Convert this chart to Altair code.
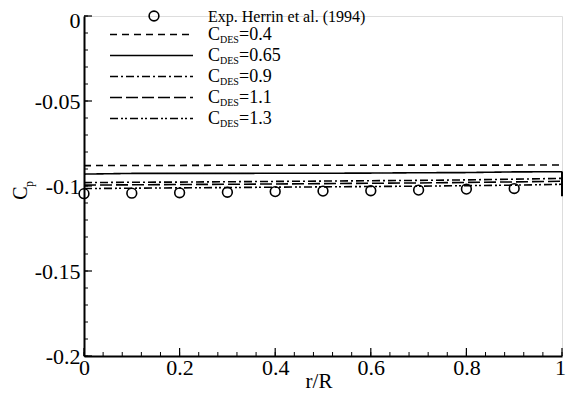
import altair as alt
import pandas as pd

FONT = "Times New Roman, Liberation Serif, DejaVu Serif, serif"

# ---- data ----
r_line = [0.0, 0.1, 0.2, 0.3, 0.4, 0.5, 0.6, 0.7, 0.8, 0.9, 1.0]
cdes_04 = [-0.0880, -0.0879, -0.0879, -0.0878, -0.0878, -0.0878, -0.0878, -0.0877, -0.0877, -0.0877, -0.0876]
cdes_065 = [-0.0930, -0.0926, -0.0926, -0.0926, -0.0925, -0.0925, -0.0924, -0.0922, -0.0921, -0.0917, -0.0916]
cdes_09 = [-0.0980, -0.0978, -0.0977, -0.0975, -0.0973, -0.0971, -0.0969, -0.0967, -0.0964, -0.0960, -0.0955]
cdes_11 = [-0.0995, -0.0993, -0.0991, -0.0990, -0.0988, -0.0986, -0.0984, -0.0982, -0.0979, -0.0976, -0.0972]
cdes_13 = [-0.1015, -0.1013, -0.1011, -0.1009, -0.1007, -0.1005, -0.1003, -0.1001, -0.0998, -0.0995, -0.0990]

exp_r = [0.0, 0.1, 0.2, 0.3, 0.4, 0.5, 0.6, 0.7, 0.8, 0.9]
exp_cp = [-0.1045, -0.1042, -0.1040, -0.1037, -0.1033, -0.1030, -0.1028, -0.1024, -0.1018, -0.1015]

series_names = ["0.4", "0.65", "0.9", "1.1", "1.3"]
series_values = [cdes_04, cdes_065, cdes_09, cdes_11, cdes_13]
dashes = [[7, 5], [1, 0], [8, 3, 2, 3], [12, 4], [8, 3, 2, 2, 2, 3]]

x_major = [0, 0.2, 0.4, 0.6, 0.8, 1.0]
x_minor = [i * 0.04 for i in range(26)]
y_major = [0, -0.05, -0.1, -0.15, -0.2]
y_minor = [-i * 0.01 for i in range(21)]
y_tick_labels = ["0", "-0.05", "-0.1", "-0.15", "-0.2"]

rows = []
for name, vals in zip(series_names, series_values):
    for r, v in zip(r_line, vals):
        rows.append({"series": name, "r": r, "cp": v})
lines_df = pd.DataFrame(rows)
exp_df = pd.DataFrame({"r": exp_r, "cp": exp_cp})

W, H = 478, 340
xs = alt.Scale(domain=[0, 1], nice=False, zero=False)
ys = alt.Scale(domain=[-0.2, 0], nice=False, zero=False)

ylabel_expr = "{" + ",".join(f"'{v}':'{t}'" for v, t in zip(y_major, y_tick_labels)) + "}[''+datum.value]"

base_x = alt.X("r:Q", scale=xs,
               axis=alt.Axis(values=x_major, ticks=False, grid=False, title=None,
                             labelFont=FONT, labelFontSize=22, labelColor="black",
                             labelPadding=1, domainColor="black", domainWidth=2,
                             labelOffset={"condition": {"test": "datum.value == 1", "value": -2}, "value": 0},
                             labelExpr="datum.value == 0 ? '0' : datum.value == 1 ? '1' : format(datum.value, '.1f')",
                             labelFlush=False))
base_y = alt.Y("cp:Q", scale=ys,
               axis=alt.Axis(values=y_major, ticks=False, grid=False, title=None,
                             labelFont=FONT, labelFontSize=22, labelColor="black",
                             labelPadding=4, domainColor="black", domainWidth=2,
                             labelOffset={"condition": {"test": "datum.value == 0", "value": 4}, "value": 0},
                             labelExpr=ylabel_expr, labelFlush=False))

lines = alt.Chart(lines_df).mark_line(color="black", strokeWidth=1.6).encode(
    x=base_x, y=base_y,
    strokeDash=alt.StrokeDash("series:N", scale=alt.Scale(domain=series_names, range=dashes), legend=None),
    detail="series:N",
)

points = alt.Chart(exp_df).mark_point(shape="circle", filled=False, color="black",
                                      size=95, strokeWidth=1.6, opacity=1).encode(
    x=alt.X("r:Q", scale=xs), y=alt.Y("cp:Q", scale=ys))

end_bar = alt.Chart(pd.DataFrame({"r": [1.0], "a": [-0.0915], "b": [-0.1060]})).mark_rule(
    color="black", strokeWidth=2).encode(x=alt.X("r:Q", scale=xs), y=alt.Y("a:Q", scale=ys), y2="b:Q")

# inward ticks
yt_major = alt.Chart(pd.DataFrame({"v": y_major})).mark_rule(color="black", strokeWidth=1.2).encode(
    y=alt.Y("v:Q", scale=ys), x=alt.value(0), x2=alt.value(8))
yt_minor = alt.Chart(pd.DataFrame({"v": y_minor})).mark_rule(color="black", strokeWidth=1).encode(
    y=alt.Y("v:Q", scale=ys), x=alt.value(0), x2=alt.value(4))
xt_major = alt.Chart(pd.DataFrame({"v": x_major})).mark_rule(color="black", strokeWidth=1.2).encode(
    x=alt.X("v:Q", scale=xs), y=alt.value(H), y2=alt.value(H - 8))
xt_minor = alt.Chart(pd.DataFrame({"v": x_minor})).mark_rule(color="black", strokeWidth=1).encode(
    x=alt.X("v:Q", scale=xs), y=alt.value(H), y2=alt.value(H - 4))

# axis titles
xtitle = alt.Chart(pd.DataFrame({"t": ["r/R"]})).mark_text(
    font=FONT, fontSize=21, color="black", align="center", baseline="alphabetic").encode(
    text="t:N", x=alt.value(235), y=alt.value(372))
ytitle_c = alt.Chart(pd.DataFrame({"t": ["C"]})).mark_text(
    font=FONT, fontSize=20, angle=270, color="black", align="center", baseline="middle").encode(
    text="t:N", x=alt.value(-63), y=alt.value(177))
ytitle_p = alt.Chart(pd.DataFrame({"t": ["p"]})).mark_text(
    font=FONT, fontSize=12, angle=270, color="black", align="center", baseline="middle").encode(
    text="t:N", x=alt.value(-55), y=alt.value(168))

# manual legend
LX0, LX1, TX, CX = 26, 109, 124, 70
row_y = [0, 18.5, 39.5, 60.5, 81.5, 102.5]
legend_layers = []
legend_layers.append(alt.Chart(pd.DataFrame({"a": [0]})).mark_point(
    shape="circle", filled=False, color="black", size=95, strokeWidth=1.6, opacity=1).encode(
    x=alt.value(CX), y=alt.value(row_y[0])))
legend_layers.append(alt.Chart(pd.DataFrame({"t": ["Exp. Herrin et al. (1994)"]})).mark_text(
    font=FONT, fontSize=16, color="black", align="left", baseline="alphabetic").encode(
    text="t:N", x=alt.value(TX), y=alt.value(row_y[0] + 6)))
for i, (name, d) in enumerate(zip(series_names, dashes)):
    yy = row_y[i + 1]
    legend_layers.append(alt.Chart(pd.DataFrame({"a": [0]})).mark_rule(
        color="black", strokeWidth=1.6, strokeDash=d).encode(
        x=alt.value(LX0), x2=alt.value(LX1), y=alt.value(yy)))
    legend_layers.append(alt.Chart(pd.DataFrame({"t": ["C"]})).mark_text(
        font=FONT, fontSize=18, color="black", align="left", baseline="middle").encode(
        text="t:N", x=alt.value(TX), y=alt.value(yy)))
    legend_layers.append(alt.Chart(pd.DataFrame({"t": ["DES"]})).mark_text(
        font=FONT, fontSize=10, color="black", align="left", baseline="middle").encode(
        text="t:N", x=alt.value(TX + 12), y=alt.value(yy + 5)))
    legend_layers.append(alt.Chart(pd.DataFrame({"t": ["=" + name]})).mark_text(
        font=FONT, fontSize=18, color="black", align="left", baseline="middle").encode(
        text="t:N", x=alt.value(TX + 31), y=alt.value(yy)))

chart = alt.layer(
    lines, points, end_bar, yt_major, yt_minor, xt_major, xt_minor,
    xtitle, ytitle_c, ytitle_p, *legend_layers
).properties(
    width=W, height=H,
    autosize=alt.AutoSizeParams(type="none"),
    padding={"left": 76, "top": 8, "right": 4, "bottom": 37},
).configure_view(stroke=None).configure(background="white")

chart.save("out.html", embed_options={"renderer": "svg", "actions": False})
